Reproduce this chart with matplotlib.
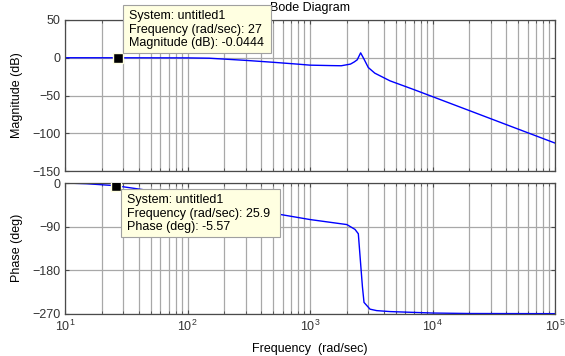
import numpy as np
import matplotlib
matplotlib.use("Agg")
import matplotlib.pyplot as plt
from matplotlib.patches import Rectangle
from matplotlib.ticker import LogLocator, NullFormatter

plt.rcParams["font.family"] = ["Liberation Sans", "DejaVu Sans"]
plt.rcParams["mathtext.default"] = "regular"

# magnitude curve
mag_freq = [10, 27, 100, 150, 200, 300, 500, 800, 1000, 1500, 1800, 2140,
            2300, 2430, 2590, 2760, 2990, 3380, 4500, 7000, 10000,
            20000, 50000, 100000]
mag_db = [0, -0.0444, -0.2, -0.6, -1.8, -3.5, -6, -8.5, -9.8, -10.4, -10.6,
          -8.4, -5.5, -2.7, 6.5, -1.8, -12.9, -20.4, -30.6, -42, -51.5,
          -70, -94.5, -113]

# phase curve
ph_freq = [10, 15, 25.9, 50, 100, 200, 400, 569, 1000, 2000, 2330, 2480,
           2590, 2680, 2760, 3090, 3500, 4500, 10000, 20000, 100000]
ph_deg = [0, -1.5, -5.57, -16, -30, -45, -58, -65, -75.6, -86, -96, -105,
          -167, -215, -247, -261, -264, -266, -269, -270, -270.3]

# data tips
tip_mag = (27, -0.0444)
tip_ph = (25.9, -5.57)

W, H = 565, 356
GRID = "#a8a8a8"
SPINE = "#4a4a4a"
TXT = "#333333"
FS = 9


def px(x, y):
    return x / W, 1 - y / H


def style(ax, yticks):
    ax.set_xscale("log")
    ax.set_xlim(10, 1e5)
    ax.set_yticks(yticks)
    ax.xaxis.set_major_locator(LogLocator(base=10, numticks=10))
    ax.xaxis.set_minor_locator(LogLocator(base=10, subs=np.arange(2, 10), numticks=20))
    ax.xaxis.set_minor_formatter(NullFormatter())
    ax.grid(True, which="major", color=GRID, lw=0.9)
    ax.grid(True, which="minor", axis="x", color=GRID, lw=0.9)
    ax.tick_params(which="both", direction="in", top=True, right=True,
                   colors=SPINE, labelcolor=TXT, labelsize=FS)
    ax.tick_params(which="major", length=3)
    ax.tick_params(which="minor", length=2)
    for s in ax.spines.values():
        s.set_color(SPINE)
        s.set_linewidth(0.9)


fig = plt.figure(figsize=(W / 100, H / 100), dpi=100)
ax1 = fig.add_axes([65 / W, 1 - 171 / H, 490 / W, 151 / H])
ax2 = fig.add_axes([65 / W, 1 - 314 / H, 490 / W, 131 / H])

ax1.plot(mag_freq, mag_db, color="#0000ff", lw=1)
ax1.set_ylim(-150, 50)
style(ax1, [50, 0, -50, -100, -150])
ax1.tick_params(labelbottom=False)
ax1.plot(*tip_mag, marker="s", ms=7, mfc="black", mec="#ffffe1", mew=1, zorder=5)

ax2.plot(ph_freq, ph_deg, color="#0000ff", lw=1)
ax2.set_ylim(-271, 0)
style(ax2, [0, -90, -180, -270])
ax2.plot(*tip_ph, marker="s", ms=7, mfc="black", mec="#ffffe1", mew=1, zorder=5)

fig.text(*px(310, 8), "Bode Diagram", ha="center", va="center", fontsize=FS, color="black")
fig.text(*px(17, 95), "Magnitude (dB)", rotation=90, ha="center", va="center", fontsize=FS)
fig.text(*px(17, 248), "Phase (deg)", rotation=90, ha="center", va="center", fontsize=FS)
fig.text(*px(310, 349), "Frequency  (rad/sec)", ha="center", va="center", fontsize=FS)


def tip(x0, y0, x1, y1, tx, ys, lines):
    fx, fy = px(x0, y1)
    fig.patches.append(Rectangle((fx, fy), (x1 - x0) / W, (y1 - y0) / H,
                                 transform=fig.transFigure, fc="#ffffe1",
                                 ec="#a0a0a0", lw=0.8, zorder=10))
    for yy, s in zip(ys, lines):
        fig.text(*px(tx, yy), s, ha="left", va="center", fontsize=FS, zorder=11)


tip(123, 5, 271, 53, 129, [16, 30, 43],
    ["System: untitled1",
     f"Frequency (rad/sec): {tip_mag[0]:g}",
     f"Magnitude (dB): {tip_mag[1]:g}"])
tip(121, 189, 280, 237, 127, [200, 214, 227],
    ["System: untitled1",
     f"Frequency (rad/sec): {tip_ph[0]:g}",
     f"Phase (deg): {tip_ph[1]:g}"])

fig.savefig("out.png", dpi=100)
